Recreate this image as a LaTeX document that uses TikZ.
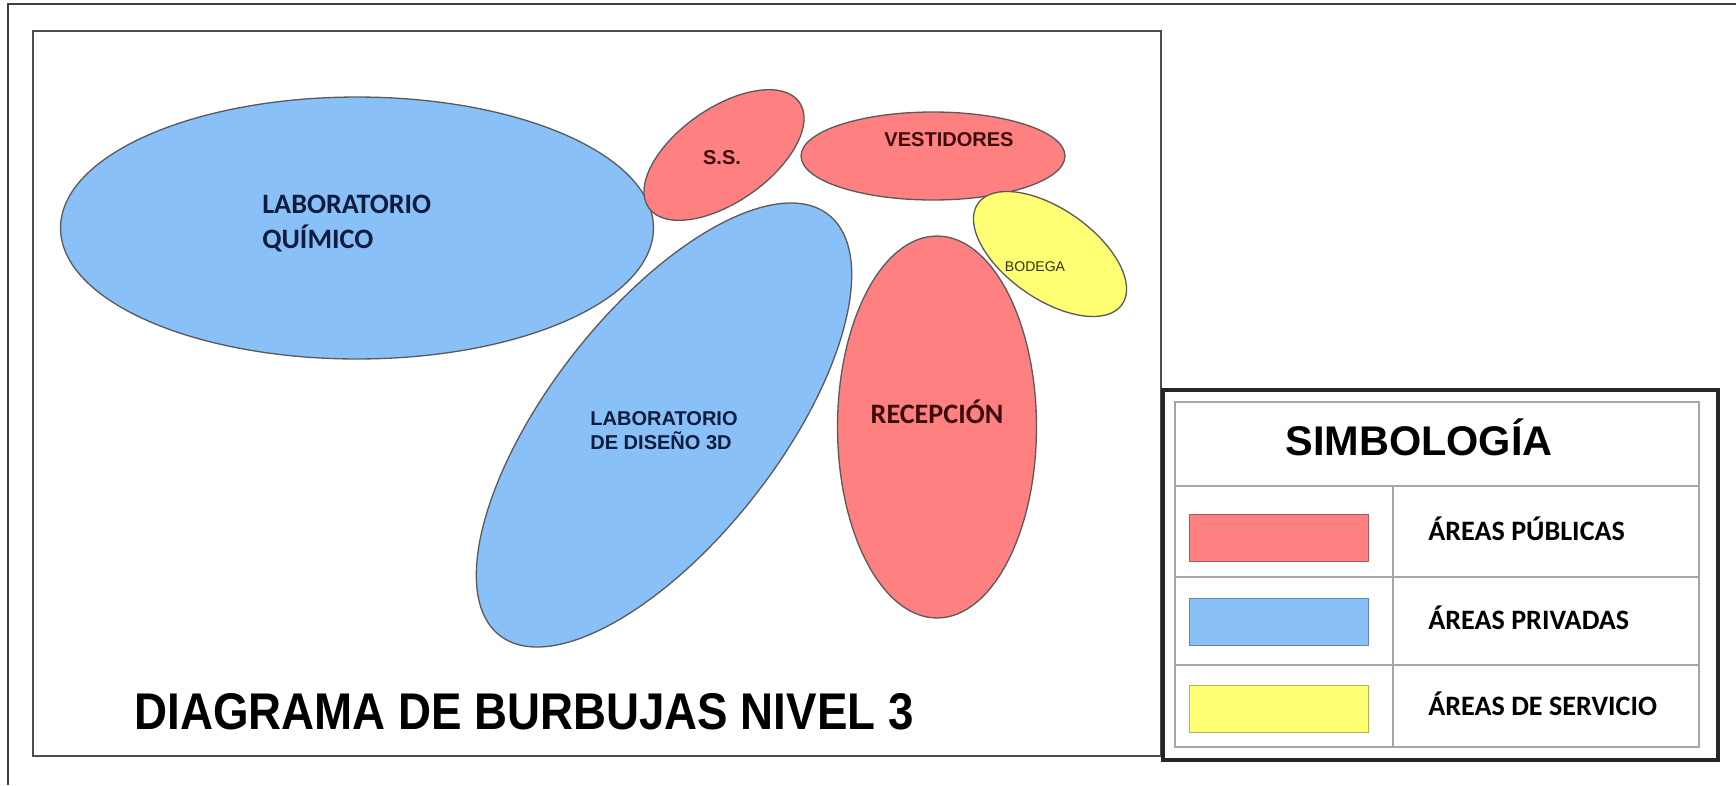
\documentclass[tikz,border=0pt]{standalone}
\usepackage{fontspec}
\setmainfont{Liberation Sans}
\newfontfamily\calibri{Carlito}
\usepackage{tikz}
\usetikzlibrary{shapes.geometric,positioning}
\definecolor{rojopub}{RGB}{255,128,128}
\definecolor{azulpriv}{RGB}{138,192,248}
\definecolor{amarserv}{RGB}{255,255,115}
\definecolor{bordeburb}{RGB}{90,90,90}
\definecolor{txtazul}{RGB}{14,28,62}
\definecolor{txtrojo}{RGB}{60,12,12}
\definecolor{txtamar}{RGB}{50,50,10}

\begin{document}
\begin{tikzpicture}[
	x=0.02cm, y=-0.02cm,
	burbuja/.style={ellipse, draw=bordeburb, line width=0.75pt, inner sep=0pt, outer sep=0pt},
	publica/.style={burbuja, fill=rojopub},
	privada/.style={burbuja, fill=azulpriv},
	servicio/.style={burbuja, fill=amarserv},
	letracal/.style={font=\calibri\bfseries\fontsize{16}{19.5}\selectfont, inner sep=0pt},
	letraarial/.style={font=\bfseries\fontsize{11.4}{14}\selectfont, inner sep=0pt},
	muestra/.style={rectangle, minimum width=3.58cm, minimum height=0.94cm, inner sep=0pt, line width=0.9pt},
	marco/.style={line width=0.8pt, black!35},
]
\useasboundingbox (0,0) rectangle (1736,785);

% marcos de la lamina
\draw[line width=1.4pt, black!75] (1736,4) -- (8,4) -- (8,785);
\draw[line width=1pt, black!70] (33,31) rectangle (1161,756);

% burbujas
\node[privada, minimum width=11.86cm, minimum height=5.24cm] (quimico) at (357,228) {};
\node[privada, minimum width=10.68cm, minimum height=4.6cm, rotate=52] (diseno) at (664,425) {};
\node[publica, minimum width=3.68cm, minimum height=1.88cm, rotate=35] (ss) at (724,155) {};
\node[publica, minimum width=5.28cm, minimum height=1.76cm] (vestidores) at (933,156) {};
\node[publica, minimum width=3.98cm, minimum height=7.64cm] (recepcion) at (937,427) {};
\node[servicio, minimum width=3.52cm, minimum height=1.8cm, rotate=-35] (bodega) at (1050,254) {};

\node[letracal, txtazul, align=left, anchor=north west] (tquimico) at (262,195) {LABORATORIO\\QUÍMICO};
\node[letraarial, txtazul, align=left, anchor=north west] (tdiseno) at (590,411) {LABORATORIO\\DE DISEÑO 3D};
\node[letraarial, txtrojo, anchor=base] (tss) at (722,164) {S.S.};
\node[letraarial, txtrojo, anchor=base] (tvestidores) at (949,146) {VESTIDORES};
\node[letracal, txtrojo, anchor=base] (trecepcion) at (937,423) {RECEPCIÓN};
\node[font=\fontsize{8}{10}\selectfont, txtamar, inner sep=0pt, anchor=base] (tbodega) at (1035,271) {BODEGA};

\node[font=\bfseries\fontsize{26}{31}\selectfont, inner sep=0pt, anchor=base] (titulo) at (524,729) {\scalebox{1}[1.13]{DIAGRAMA DE BURBUJAS NIVEL 3}};

% simbologia
\draw[line width=2.2pt, black!85] (1163,390) rectangle (1718,760);
\draw[marco] (1175,402) rectangle (1699,747);
\draw[marco] (1175,486) -- (1699,486);
\draw[marco] (1175,577) -- (1699,577);
\draw[marco] (1175,665) -- (1699,665);
\draw[marco] (1393,486) -- (1393,747);
\node[font=\bfseries\fontsize{23.6}{28}\selectfont, inner sep=0pt, anchor=base] (simbologia) at (1419,455) {SIMBOLOGÍA};

\node[muestra, fill=rojopub, draw=rojopub!70!black] (mpublica) at (1279,538) {};
\node[muestra, fill=azulpriv, draw=azulpriv!70!black] (mprivada) at (1279,622) {};
\node[muestra, fill=amarserv, draw=amarserv!70!black] (mservicio) at (1279,709) {};
\node[letracal, anchor=base west] (lpublica) at (1428,540) {ÁREAS PÚBLICAS};
\node[letracal, anchor=base west] (lprivada) at (1428,629) {ÁREAS PRIVADAS};
\node[letracal, anchor=base west] (lservicio) at (1428,715) {ÁREAS DE SERVICIO};
\end{tikzpicture}
\end{document}
